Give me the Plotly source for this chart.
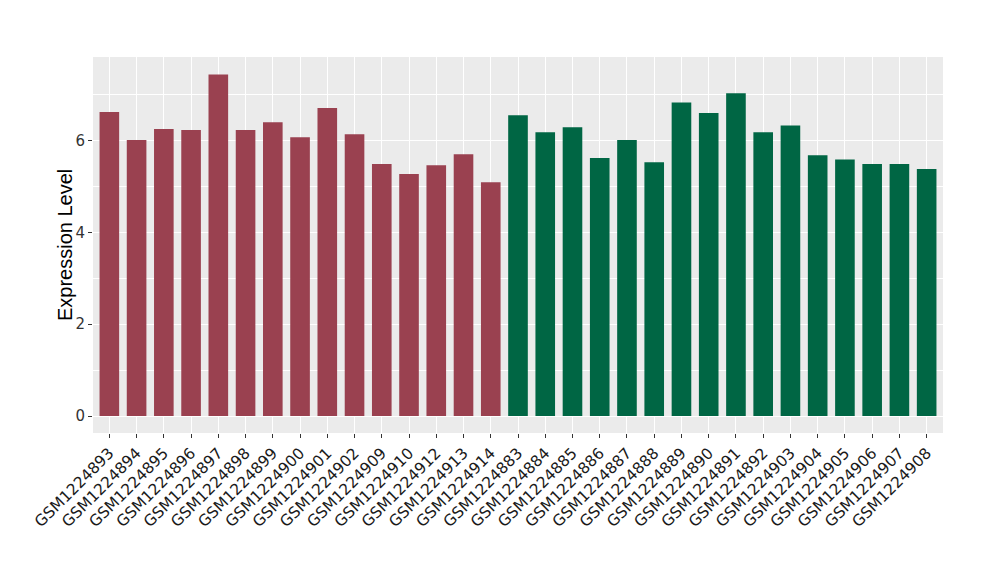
import plotly.graph_objects as go

samples_a = ["GSM1224893","GSM1224894","GSM1224895","GSM1224896","GSM1224897",
             "GSM1224898","GSM1224899","GSM1224900","GSM1224901","GSM1224902",
             "GSM1224909","GSM1224910","GSM1224912","GSM1224913","GSM1224914"]
values_a = [6.62, 6.01, 6.25, 6.23, 7.44, 6.23, 6.40, 6.07, 6.71, 6.14,
            5.49, 5.27, 5.46, 5.70, 5.09]
samples_b = ["GSM1224883","GSM1224884","GSM1224885","GSM1224886","GSM1224887",
             "GSM1224888","GSM1224889","GSM1224890","GSM1224891","GSM1224892",
             "GSM1224903","GSM1224904","GSM1224905","GSM1224906","GSM1224907",
             "GSM1224908"]
values_b = [6.55, 6.18, 6.29, 5.62, 6.01, 5.53, 6.83, 6.60, 7.03, 6.18,
            6.33, 5.68, 5.59, 5.49, 5.49, 5.38]

color_a = "#9A4150"
color_b = "#006644"

cats = samples_a + samples_b
vals = values_a + values_b
cols = [color_a] * len(samples_a) + [color_b] * len(samples_b)

fig = go.Figure(go.Bar(x=cats, y=vals, marker=dict(color=cols, line=dict(width=0)),
                       width=0.72, showlegend=False))

fig.update_layout(
    width=1000, height=580,
    paper_bgcolor="white", plot_bgcolor="#EBEBEB",
    margin=dict(l=93, r=57, t=57, b=147),
    font=dict(family="DejaVu Sans", color="#1a1a1a"),
)
fig.update_xaxes(
    type="category", categoryorder="array", categoryarray=cats,
    range=[-0.6, len(cats) - 0.4],
    showgrid=True, gridcolor="white", gridwidth=1.1,
    ticks="outside", ticklen=4, tickcolor="#333333", tickwidth=1,
    tickangle=-45, tickfont=dict(size=15.5, family="DejaVu Sans", color="#1a1a1a"),
    zeroline=False, showline=False, automargin=False,
)
fig.update_yaxes(
    range=[-0.37, 7.82],
    tickvals=[0, 2, 4, 6],
    showgrid=True, gridcolor="white", gridwidth=1.1,
    minor=dict(tickvals=[1, 3, 5, 7], showgrid=True, gridcolor="white", gridwidth=0.5, ticks=""),
    ticks="outside", ticklen=4, tickcolor="#333333", tickwidth=1,
    tickfont=dict(size=15, family="DejaVu Sans", color="#333333"),
    zeroline=False, showline=False, automargin=False,
)
fig.add_annotation(
    text="Expression Level", xref="paper", yref="paper",
    x=(65 - 93) / 850, y=0.5, xanchor="center", yanchor="middle",
    textangle=-90, showarrow=False,
    font=dict(size=20, family="Liberation Sans", color="black"),
)

fig.write_html("out.html", config={"displayModeBar": False},
               post_script="document.body.style.margin='0';document.body.style.overflow='hidden';")
